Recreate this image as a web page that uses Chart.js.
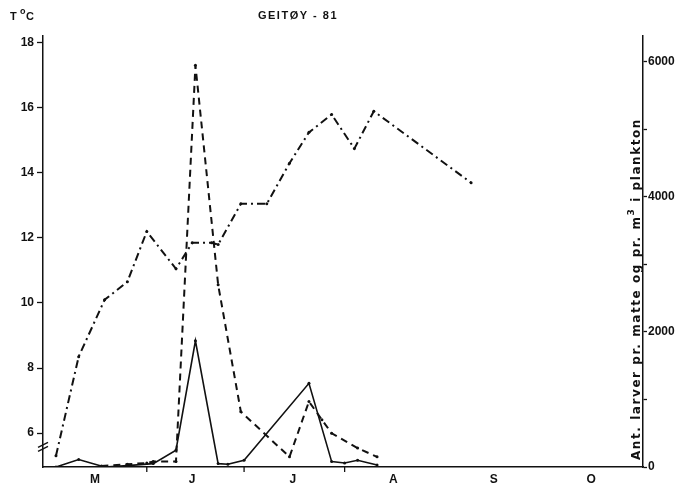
<!DOCTYPE html>
<html lang="no">
<head>
<meta charset="UTF-8">
<title>Geitøy - 81</title>
<script src="https://cdn.jsdelivr.net/npm/chart.js"></script>
<style>
  body { margin: 0; background: #fff; }
</style>
</head>
<body>
<canvas id="chart" width="682" height="486"></canvas>
<script>
// x values are days counted from 1 May 1981
const monthLabels = ["M", "J", "J", "A", "S", "O"];
const monthMid = [15, 45, 76, 107, 138, 168];
const monthStart = [31, 61, 92];

// water temperature (left axis)
const tempDays = [3, 10, 18, 25, 31, 40, 45, 51, 53, 60, 68, 75, 81, 88, 95, 101, 131];
const tempValues = [5.3, 8.35, 10.1, 10.65, 12.2, 11.05, 11.85, 11.85, 11.8, 13.05, 13.05, 14.3, 15.25, 15.8, 14.75, 15.9, 13.7];

// larvae per mat (dashed, right axis)
const matDays = [17, 25, 31, 33, 40, 46, 53, 60, 75, 81, 85, 88, 96, 102];
const matValues = [15, 40, 60, 80, 80, 5950, 2700, 820, 150, 970, 700, 500, 280, 150];

// larvae per m3 plankton (solid, right axis)
const planktonDays = [3, 10, 18, 25, 33, 40, 46, 53, 56, 61, 81, 88, 92, 96, 102];
const planktonValues = [0, 110, 0, 20, 50, 250, 1870, 50, 40, 100, 1240, 80, 60, 100, 30];

const tempTicks = [6, 8, 10, 12, 14, 16, 18];
const larvaeTicks = [0, 1000, 2000, 3000, 4000, 5000, 6000];
const larvaeLabelled = [0, 2000, 4000, 6000];

const ink = "#111";
const family = "'Liberation Sans', Arial, sans-serif";
const capFamily = "'DejaVu Sans', sans-serif";
const tickFont = { family: family, weight: "bold", size: 12 };

function pairs(xs, ys) {
    return xs.map((x, i) => ({ x: x, y: ys[i] }));
}

// title, axis captions, axis break and month ticks
const extras = {
    id: "extras",
    afterDraw(chart) {
        const ctx = chart.ctx;
        const xs = chart.scales.x;
        const yT = chart.scales.yT;
        const area = chart.chartArea;
        ctx.save();
        ctx.fillStyle = ink;
        ctx.strokeStyle = ink;

        ctx.font = "bold 11px " + family;
        ctx.letterSpacing = "1.5px";
        ctx.textAlign = "center";
        ctx.textBaseline = "middle";
        ctx.fillText("GEITØY - 81", 298, 16);
        ctx.letterSpacing = "0px";

        ctx.textAlign = "left";
        ctx.font = "bold 11px " + family;
        ctx.fillText("T", 10, 17);
        ctx.font = "bold 9px " + family;
        ctx.fillText("o", 20, 12);
        ctx.font = "bold 11px " + family;
        ctx.fillText("C", 26, 17);

        // right axis caption, read bottom to top, spread over the axis height
        const parts = [["Ant. larver pr. matte og pr. m", "bold 12px " + capFamily, 0],
                       ["3", "bold 9px " + capFamily, -5],
                       [" i plankton", "bold 12px " + capFamily, 0]];
        let plain = 0, chars = 0;
        parts.forEach(p => {
            ctx.font = p[1];
            plain += ctx.measureText(p[0]).width;
            chars += p[0].length;
        });
        const span = 342;
        const spacing = (span - plain) / chars;
        ctx.translate(637, 289);
        ctx.rotate(-Math.PI / 2);
        ctx.letterSpacing = spacing.toFixed(2) + "px";
        let pos = -span / 2;
        parts.forEach(p => {
            ctx.font = p[1];
            ctx.fillText(p[0], pos, p[2]);
            pos += ctx.measureText(p[0]).width;
        });
        ctx.setTransform(1, 0, 0, 1, 0, 0);
        ctx.letterSpacing = "0px";

        // break marks on the temperature axis
        const yb = yT.getPixelForValue(5.65);
        ctx.lineWidth = 1.3;
        [0, 4].forEach(off => {
            ctx.beginPath();
            ctx.moveTo(area.left - 5, yb + 3 + off);
            ctx.lineTo(area.left + 5, yb - 2 + off);
            ctx.stroke();
        });

        // month boundary ticks under the axis
        monthStart.forEach(d => {
            const px = xs.getPixelForValue(d);
            ctx.beginPath();
            ctx.moveTo(px, area.bottom);
            ctx.lineTo(px, area.bottom + 5);
            ctx.stroke();
        });
        ctx.restore();
    }
};

new Chart(document.getElementById("chart").getContext("2d"), {
    type: "line",
    data: {
        datasets: [
            {
                label: "T °C",
                data: pairs(tempDays, tempValues),
                yAxisID: "yT",
                borderColor: ink,
                borderWidth: 2,
                borderDash: [8, 4, 2, 4],
                pointRadius: 1.5,
                pointBackgroundColor: ink,
                pointBorderWidth: 0,
                tension: 0
            },
            {
                label: "pr. matte",
                data: pairs(matDays, matValues),
                yAxisID: "yL",
                borderColor: ink,
                borderWidth: 2,
                borderDash: [7, 5],
                pointRadius: 1.5,
                pointBackgroundColor: ink,
                pointBorderWidth: 0,
                tension: 0
            },
            {
                label: "pr. m3 plankton",
                data: pairs(planktonDays, planktonValues),
                yAxisID: "yL",
                borderColor: ink,
                borderWidth: 1.6,
                pointRadius: 1.5,
                pointBackgroundColor: ink,
                pointBorderWidth: 0,
                tension: 0
            }
        ]
    },
    options: {
        responsive: false,
        animation: false,
        layout: { padding: { top: 36, left: 0, right: 0, bottom: 0 } },
        plugins: {
            legend: { display: false },
            title: { display: false },
            tooltip: { enabled: false }
        },
        scales: {
            x: {
                type: "linear",
                min: -1,
                max: 184,
                afterBuildTicks: axis => { axis.ticks = monthMid.map(v => ({ value: v })); },
                afterFit: axis => { axis.height = 19; },
                ticks: {
                    autoSkip: false,
                    maxRotation: 0,
                    padding: 5,
                    color: ink,
                    font: tickFont,
                    callback: (v, i) => monthLabels[i]
                },
                grid: { display: false, drawTicks: false },
                border: { display: true, color: ink, width: 1.5 }
            },
            yT: {
                type: "linear",
                position: "left",
                min: 4.954,
                max: 18.215,
                afterBuildTicks: axis => { axis.ticks = tempTicks.map(v => ({ value: v })); },
                afterFit: axis => { axis.width = 43; },
                ticks: { color: ink, font: tickFont, padding: 3 },
                grid: { drawOnChartArea: false, drawTicks: true, tickLength: 6, color: ink, tickWidth: 1.3 },
                border: { display: true, color: ink, width: 1.5 }
            },
            yL: {
                type: "linear",
                position: "right",
                min: 0,
                max: 6385,
                afterBuildTicks: axis => { axis.ticks = larvaeTicks.map(v => ({ value: v })); },
                afterFit: axis => { axis.width = 39; },
                ticks: {
                    color: ink,
                    font: { family: family, weight: "bold", size: 12 },
                    padding: 1,
                    callback: v => larvaeLabelled.includes(v) ? String(v) : ""
                },
                grid: { drawOnChartArea: false, drawTicks: true, tickLength: 4, color: ink, tickWidth: 1.3 },
                border: { display: true, color: ink, width: 1.5 }
            }
        }
    },
    plugins: [extras]
});
</script>
</body>
</html>
